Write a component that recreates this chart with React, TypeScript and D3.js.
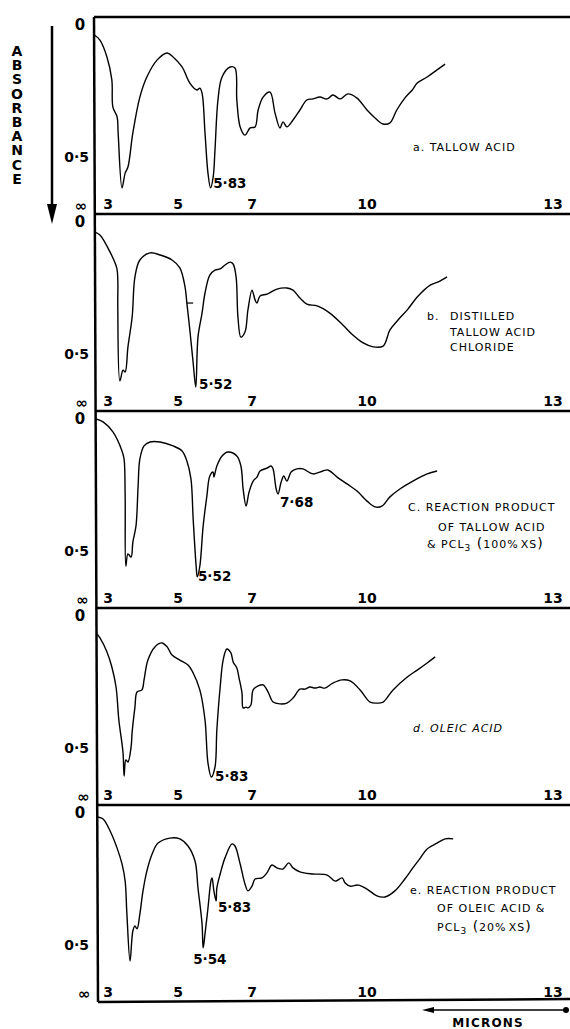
import React from 'react';
import * as d3 from 'd3';

const W = 570;
const H = 1029;

// wavelength axis (microns) and where the chart paper puts them
const tickMicrons = [3, 5, 7, 10, 13];
const tickPx = [108, 178, 252, 367, 553];

// spectra, [micron, absorbance]
const tallowAcid: [number, number][] = [
  [2.61, 0.038], [2.77, 0.057], [2.97, 0.121], [3.11, 0.208], [3.14, 0.311], [3.26, 0.348],
  [3.29, 0.409], [3.40, 0.617], [3.49, 0.561], [3.57, 0.538], [3.71, 0.409], [3.91, 0.273],
  [4.11, 0.197], [4.40, 0.133], [4.69, 0.106], [4.86, 0.121], [5.11, 0.159], [5.32, 0.220],
  [5.51, 0.246], [5.59, 0.239], [5.65, 0.258], [5.73, 0.409], [5.81, 0.561], [5.88, 0.617],
  [5.95, 0.576], [6.00, 0.473], [6.08, 0.284], [6.19, 0.197], [6.41, 0.159], [6.54, 0.163],
  [6.59, 0.284], [6.68, 0.386], [6.81, 0.417], [6.95, 0.390], [7.08, 0.386], [7.16, 0.322],
  [7.29, 0.273], [7.47, 0.254], [7.60, 0.333], [7.73, 0.390], [7.81, 0.367], [7.91, 0.386],
  [8.07, 0.360], [8.25, 0.322], [8.43, 0.284], [8.59, 0.280], [8.77, 0.273], [8.96, 0.280],
  [9.11, 0.265], [9.30, 0.280], [9.50, 0.261], [9.74, 0.277], [10.0, 0.322], [10.13, 0.352],
  [10.26, 0.375], [10.37, 0.371], [10.48, 0.322], [10.61, 0.277], [10.73, 0.246], [10.81, 0.220],
  [10.97, 0.197], [11.13, 0.170], [11.26, 0.148],
];

const tallowAcidChloride: [number, number][] = [
  [2.63, 0.038], [2.77, 0.049], [3.06, 0.114], [3.25, 0.174], [3.28, 0.220], [3.28, 0.322],
  [3.34, 0.602], [3.43, 0.561], [3.49, 0.568], [3.57, 0.473], [3.69, 0.360], [3.77, 0.208],
  [3.91, 0.144], [4.20, 0.117], [4.49, 0.125], [4.83, 0.144], [5.05, 0.174], [5.19, 0.246],
  [5.24, 0.307], [5.32, 0.409], [5.41, 0.534], [5.48, 0.625], [5.54, 0.436], [5.65, 0.345],
  [5.73, 0.269], [5.86, 0.201], [6.00, 0.182], [6.14, 0.178], [6.27, 0.163], [6.41, 0.152],
  [6.49, 0.159], [6.57, 0.208], [6.62, 0.360], [6.70, 0.436], [6.81, 0.417], [6.89, 0.333],
  [7.00, 0.258], [7.08, 0.295], [7.13, 0.307], [7.21, 0.280], [7.39, 0.273], [7.65, 0.254],
  [7.91, 0.250], [8.07, 0.258], [8.25, 0.288], [8.43, 0.311], [8.70, 0.318], [9.03, 0.345],
  [9.37, 0.390], [9.63, 0.428], [9.90, 0.458], [10.10, 0.473], [10.26, 0.470], [10.37, 0.409],
  [10.50, 0.371], [10.65, 0.333], [10.81, 0.284], [11.02, 0.239], [11.15, 0.227], [11.29, 0.208],
];

const tallowAcidPcl3: [number, number][] = [
  [2.66, 0.0], [2.86, 0.011], [3.14, 0.049], [3.40, 0.121], [3.46, 0.152], [3.49, 0.292],
  [3.51, 0.557], [3.57, 0.511], [3.66, 0.523], [3.71, 0.466], [3.80, 0.405], [3.86, 0.254],
  [3.91, 0.152], [4.03, 0.102], [4.20, 0.087], [4.49, 0.087], [4.86, 0.102], [5.11, 0.121],
  [5.24, 0.159], [5.35, 0.227], [5.41, 0.379], [5.49, 0.557], [5.52, 0.598], [5.59, 0.557],
  [5.68, 0.405], [5.78, 0.292], [5.86, 0.216], [5.95, 0.201], [5.97, 0.220], [6.05, 0.178],
  [6.19, 0.140], [6.35, 0.125], [6.59, 0.140], [6.70, 0.178], [6.76, 0.265], [6.84, 0.330],
  [6.92, 0.277], [7.03, 0.235], [7.13, 0.220], [7.21, 0.197], [7.39, 0.186], [7.50, 0.178],
  [7.55, 0.189], [7.63, 0.265], [7.68, 0.284], [7.76, 0.239], [7.83, 0.216], [7.91, 0.235],
  [8.02, 0.201], [8.17, 0.189], [8.33, 0.189], [8.59, 0.208], [8.85, 0.197], [8.98, 0.193],
  [9.22, 0.220], [9.48, 0.246], [9.74, 0.273], [10.0, 0.311], [10.13, 0.333], [10.24, 0.330],
  [10.37, 0.295], [10.53, 0.265], [10.74, 0.235], [10.97, 0.208], [11.13, 0.197],
];

const oleicAcid: [number, number][] = [
  [2.66, 0.064], [2.77, 0.083], [2.97, 0.136], [3.11, 0.193], [3.23, 0.269], [3.31, 0.394],
  [3.43, 0.519], [3.46, 0.606], [3.51, 0.545], [3.57, 0.553], [3.66, 0.496], [3.69, 0.439],
  [3.77, 0.345], [3.83, 0.288], [3.97, 0.280], [4.03, 0.242], [4.14, 0.167], [4.34, 0.117],
  [4.54, 0.102], [4.69, 0.117], [4.83, 0.148], [5.05, 0.167], [5.27, 0.186], [5.41, 0.216],
  [5.59, 0.280], [5.73, 0.394], [5.81, 0.557], [5.90, 0.610], [6.00, 0.572], [6.05, 0.432],
  [6.14, 0.269], [6.22, 0.167], [6.32, 0.125], [6.43, 0.140], [6.49, 0.174], [6.59, 0.197],
  [6.65, 0.235], [6.73, 0.292], [6.76, 0.348], [6.84, 0.345], [6.89, 0.348], [6.97, 0.337],
  [7.03, 0.280], [7.16, 0.265], [7.29, 0.261], [7.42, 0.288], [7.55, 0.326], [7.73, 0.333],
  [7.91, 0.330], [8.07, 0.311], [8.25, 0.277], [8.38, 0.277], [8.51, 0.269], [8.64, 0.273],
  [8.77, 0.269], [8.90, 0.273], [9.11, 0.254], [9.35, 0.242], [9.56, 0.246], [9.82, 0.280],
  [10.05, 0.326], [10.16, 0.330], [10.26, 0.326], [10.42, 0.280], [10.65, 0.231], [10.81, 0.205],
  [10.97, 0.178], [11.10, 0.155],
];

const oleicAcidPcl3: [number, number][] = [
  [2.71, 0.015], [2.86, 0.023], [3.06, 0.068], [3.26, 0.133], [3.40, 0.193], [3.49, 0.258],
  [3.54, 0.383], [3.63, 0.561], [3.71, 0.447], [3.77, 0.428], [3.83, 0.439], [3.91, 0.383],
  [4.00, 0.295], [4.11, 0.220], [4.26, 0.155], [4.43, 0.114], [4.77, 0.095], [5.05, 0.098],
  [5.27, 0.125], [5.46, 0.182], [5.54, 0.284], [5.65, 0.420], [5.68, 0.511], [5.73, 0.458],
  [5.81, 0.360], [5.89, 0.258], [5.92, 0.246], [5.97, 0.295], [6.03, 0.333], [6.05, 0.284],
  [6.14, 0.231], [6.27, 0.170], [6.46, 0.117], [6.54, 0.125], [6.68, 0.193], [6.81, 0.269],
  [6.89, 0.295], [7.00, 0.277], [7.08, 0.250], [7.26, 0.246], [7.39, 0.227], [7.52, 0.197],
  [7.65, 0.208], [7.81, 0.212], [7.96, 0.189], [8.07, 0.208], [8.25, 0.223], [8.59, 0.231],
  [8.96, 0.235], [9.17, 0.258], [9.35, 0.246], [9.43, 0.265], [9.56, 0.277], [9.77, 0.273],
  [10.0, 0.288], [10.16, 0.314], [10.29, 0.318], [10.45, 0.295], [10.61, 0.250], [10.74, 0.208],
  [10.85, 0.174], [10.97, 0.136], [11.13, 0.114], [11.26, 0.098], [11.39, 0.098],
];

const spectra = [tallowAcid, tallowAcidChloride, tallowAcidPcl3, oleicAcid, oleicAcidPcl3];

// band labels: text, anchored at [micron, absorbance]
const bandLabels: { panel: number; text: string; at: [number, number] }[] = [
  { panel: 0, text: '5·83', at: [5.95, 0.598] },
  { panel: 1, text: '5·52', at: [5.57, 0.614] },
  { panel: 2, text: '5·52', at: [5.54, 0.595] },
  { panel: 2, text: '7·68', at: [7.73, 0.314] },
  { panel: 3, text: '5·83', at: [6.0, 0.606] },
  { panel: 4, text: '5·83', at: [6.08, 0.356] },
  { panel: 4, text: '5·54', at: [5.41, 0.553] },
];

const captions: { text: string; x: number; y: number }[][] = [
  [{ text: 'a. TALLOW   ACID', x: 413, y: 151 }],
  [
    { text: 'b.', x: 427, y: 320 },
    { text: 'DISTILLED', x: 450, y: 320 },
    { text: 'TALLOW ACID', x: 450, y: 336 },
    { text: 'CHLORIDE', x: 450, y: 351 },
  ],
  [
    { text: 'C. REACTION PRODUCT', x: 408, y: 511 },
    { text: 'OF  TALLOW  ACID', x: 438, y: 531 },
  ],
  [{ text: 'd.  OLEIC  ACID', x: 413, y: 732 }],
  [
    { text: 'e. REACTION PRODUCT', x: 410, y: 894 },
    { text: 'OF  OLEIC  ACID  &', x: 437, y: 912 },
  ],
];

const PANEL_TOP = 17;
const PANEL_H = 197;
const AXIS_X_TOP = 94;
const AXIS_X_BOT = 98;
const FONT = '"DejaVu Sans", Verdana, sans-serif';

export default function App() {
  const x = d3.scaleLinear().domain(tickMicrons).range(tickPx);
  const bottom = PANEL_TOP + PANEL_H * spectra.length;
  const axisX = d3.scaleLinear().domain([PANEL_TOP, bottom]).range([AXIS_X_TOP, AXIS_X_BOT]);

  return (
    <svg width={W} height={H} style={{ position: 'absolute', left: 0, top: 0, background: '#fff' }}>
      {/* absorbance title and arrow */}
      {'ABSORBANCE'.split('').map((ch, i) => (
        <text key={i} x={17} y={56 + i * 14.2} textAnchor="middle" fontFamily={FONT} fontWeight="bold" fontSize={14}>{ch}</text>
      ))}
      <line x1={52} y1={26} x2={52} y2={206} stroke="#000" strokeWidth={2.5} />
      <path d="M47,204 L57,204 L52,224 Z" fill="#000" />

      {/* left axis */}
      <line x1={AXIS_X_TOP} y1={PANEL_TOP} x2={AXIS_X_BOT} y2={bottom} stroke="#000" strokeWidth={2.5} />

      {spectra.map((data, i) => {
        const top = PANEL_TOP + i * PANEL_H;
        const bot = top + PANEL_H;
        const y = d3.scaleLinear().domain([0, 0.5]).range([top + 8, top + 140]);
        const line = d3.line<[number, number]>()
          .x(d => x(d[0]))
          .y(d => y(d[1]))
          .curve(d3.curveCatmullRom.alpha(0.5));
        const ax = axisX(top);
        return (
          <g key={i}>
            <line x1={axisX(top)} y1={top} x2={W} y2={top} stroke="#000" strokeWidth={2.5} />
            <text x={80} y={y(0) + 5} textAnchor="middle" fontFamily={FONT} fontWeight="bold" fontSize={15}>0</text>
            <text x={89} y={y(0.5) + 5} textAnchor="end" fontFamily={FONT} fontWeight="bold" fontSize={14}>0·5</text>
            <text x={ax - 13} y={bot - 3} textAnchor="middle" fontFamily={FONT} fontWeight="bold" fontSize={15}>∞</text>
            {tickMicrons.map(t => (
              <text key={t} x={x(t)} y={bot - 5} textAnchor="middle" fontFamily={FONT} fontWeight="bold" fontSize={14}>{t}</text>
            ))}
            <path d={line(data) || ''} fill="none" stroke="#000" strokeWidth={1.4} strokeLinejoin="round" />
            {bandLabels.filter(b => b.panel === i).map((b, k) => (
              <text key={k} x={x(b.at[0])} y={y(b.at[1]) + 5} fontFamily={FONT} fontWeight="bold" fontSize={13.5}>{b.text}</text>
            ))}
            {captions[i].map((c, k) => (
              <text key={k} x={c.x} y={c.y} fontFamily={FONT} fontSize={11} letterSpacing={1}
                fontStyle={i === 3 ? 'italic' : 'normal'}>{c.text}</text>
            ))}
          </g>
        );
      })}

      {/* little pen mark on spectrum b */}
      <line x1={x(5.24)} y1={PANEL_TOP + PANEL_H + 8 + 0.307 * 264} x2={x(5.41)} y2={PANEL_TOP + PANEL_H + 8 + 0.307 * 264} stroke="#000" strokeWidth={1.2} />

      {/* PCl3 lines with subscripts */}
      <text x={427} y={548} fontFamily={FONT} fontSize={11} letterSpacing={1}>
        &amp; PCL<tspan dy={3} fontSize={9}>3</tspan><tspan dy={-3} fontSize={14}> (</tspan>100%&#8202;XS<tspan fontSize={14}>)</tspan>
      </text>
      <text x={437} y={931} fontFamily={FONT} fontSize={11} letterSpacing={1}>
        PCL<tspan dy={3} fontSize={9}>3</tspan><tspan dy={-3} fontSize={14}> (</tspan>20%&#8202;XS<tspan fontSize={14}>)</tspan>
      </text>

      {/* bottom axis line */}
      <line x1={axisX(bottom)} y1={bottom} x2={W} y2={bottom - 3} stroke="#000" strokeWidth={2.5} />

      {/* microns arrow */}
      <line x1={430} y1={1010} x2={566} y2={1010} stroke="#000" strokeWidth={1.6} />
      <path d="M422,1010 L434,1007 L434,1013 Z" fill="#000" />
      <circle cx={566} cy={1010} r={3} fill="#000" />
      <text x={488} y={1027} textAnchor="middle" fontFamily={FONT} fontWeight="bold" fontSize={12} letterSpacing={1.2}>MICRONS</text>
    </svg>
  );
}
